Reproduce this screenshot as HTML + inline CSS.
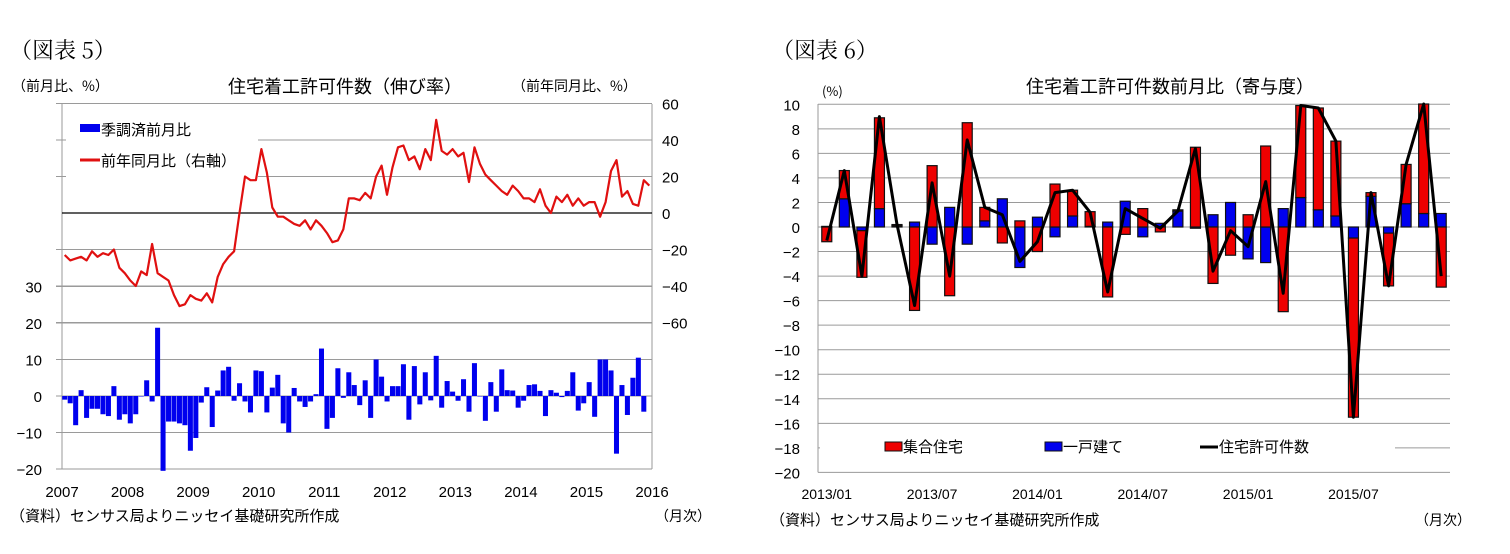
<!DOCTYPE html>
<html><head><meta charset="utf-8"><style>
html,body{margin:0;padding:0;background:#fff;width:1510px;height:554px;overflow:hidden}
svg{display:block}
text{font-family:"Liberation Sans","Noto Sans CJK JP",sans-serif;fill:#000}
.jp{font-family:"Noto Sans CJK JP","Liberation Sans",sans-serif}
.ser{font-family:"Noto Serif CJK SC","Liberation Serif",serif}
</style></head><body>
<svg id="root" width="1510" height="554" xmlns="http://www.w3.org/2000/svg">
<g id="left"></g>
<g id="right"></g>
<text class="ser" x="10" y="58" font-size="22">（図表 5）</text>
<text class="ser" x="772" y="58" font-size="22">（図表 6）</text>
<text class="jp" x="12" y="91" font-size="14">（前月比、%）</text>
<text class="jp" x="345" y="93" font-size="18" text-anchor="middle">住宅着工許可件数（伸び率）</text>
<text class="jp" x="512" y="91" font-size="14">（前年同月比、%）</text>
<text class="jp" x="10" y="521" font-size="15">（資料）センサス局よりニッセイ基礎研究所作成</text>
<text class="jp" x="655" y="521" font-size="14">（月次）</text>
<text class="jp" x="822" y="96" font-size="13">(%)</text>
<text class="jp" x="1170" y="93" font-size="18" text-anchor="middle">住宅着工許可件数前月比（寄与度）</text>
<text class="jp" x="770" y="525" font-size="15">（資料）センサス局よりニッセイ基礎研究所作成</text>
<text class="jp" x="1415" y="525" font-size="14">（月次）</text>
</svg>
<script>
const NS="http://www.w3.org/2000/svg";
function mk(parent,tag,attrs,txt){const e=document.createElementNS(NS,tag);for(const k in attrs)e.setAttribute(k,attrs[k]);if(txt!==undefined)e.textContent=txt;parent.appendChild(e);return e;}

// ===== Left chart data =====
const yearLabels=["2007","2008","2009","2010","2011","2012","2013","2014","2015","2016"];
const leftTicks=[30,20,10,0,-10,-20];
const rightTicks=[60,40,20,0,-20,-40,-60];
const momValues=[-1,-2,-8,1.6,-6,-3.5,-3.5,-5,-5.5,2.7,-6.5,-5,-7.5,-5,0,4.3,-1.5,18.7,-20.5,-7,-7,-7.5,-8,-15,-11.5,-1.8,2.4,-8.5,1.5,7,8,-1.3,3.5,-1.5,-4.5,7,6.8,-4.5,2.3,5.8,-7.5,-10,2.2,-1.5,-3,-1.5,0.5,13,-9,-6,7.6,-0.5,6.5,3,-2.5,4.3,-6,10,5.3,-1.5,2.7,2.7,8.7,-6.5,8.2,-2.3,6.5,-1.2,11,-3.2,4.1,1.2,-1.3,4.6,-4.3,9,0,-6.8,3.8,-4.3,7.3,1.6,1.5,-3.2,-1.3,3,3.2,1.4,-5.5,1.6,0.9,-0.3,1.4,6.5,-4,-2,3.8,-5.7,10,10,7,-15.8,3,-5.2,5,10.5,-4.3];
const yoyValues=[-23,-26,-25,-24,-26,-21,-24,-22,-23,-20,-30,-33,-37,-40,-32,-34,-17,-33,-35,-37,-45,-51,-50,-45,-47,-48,-44,-49,-35,-28,-24,-21,0,20,18,18,35,22,3,-2,-2,-4,-6,-7,-4,-9,-4,-7,-11,-16,-15,-9,8,8,7,11,8,20,26,10,25,36,37,29,31,24,35,29,51,34,32,35,31,33,17,36,27,21,18,15,12,10,15,12,8,8,6,13,4,0,9,6,10,4,8,4,6,6,-2,6,23,29,9,12,5,4,18,15];

// ===== Right chart data =====
const monthLabels=["2013/01","2013/07","2014/01","2014/07","2015/01","2015/07"];
const contribTicks=[10,8,6,4,2,0,-2,-4,-6,-8,-10,-12,-14,-16,-18,-20];
const multiValues=[-1.2,2.3,-3.8,7.4,0.1,-6.8,5,-5.6,8.5,1.1,-1.3,0.5,-2,3.5,2.1,1.2,-5.7,-0.6,1.5,-0.4,0.1,6.5,-4.6,-2.3,1,6.6,-6.9,7.5,8.3,6.1,-14.6,0.3,-4.3,3.2,9.1,-4.9];
const singleValues=[0.05,2.3,-0.3,1.5,0.1,0.4,-1.4,1.6,-1.4,0.5,2.3,-3.3,0.8,-0.8,0.9,0.05,0.4,2.1,-0.8,0.3,1.3,-0.1,1,2,-2.6,-2.9,1.5,2.4,1.4,0.9,-0.9,2.5,-0.5,1.9,1.1,1.1];
const totalValues=[-1.1,4.6,-4,9,0.2,-6.4,3.6,-4,7.1,1.6,1,-2.8,-1.2,2.8,3,1.2,-5.3,1.5,0.7,-0.1,1.3,6.4,-3.6,-0.3,-1.6,3.7,-5.4,9.9,9.7,7,-15.5,2.8,-4.8,5.1,10.2,-4];

// ===== Left chart drawing =====
(function(){
  const g=document.getElementById('left');
  const X0=62,X1=652,Y0=104,Y1=469;
  const nM=108;
  const yL=v=>396-(v/10)*36.5;          // left axis: 0 at 396
  const yR=v=>213-(v/20)*36.5;          // right axis: 0 at 213
  const xM=i=>X0+(X1-X0)/nM*(i+0.5);
  const bw=(X1-X0)/nM*0.92;
  // gridlines at right ticks
  rightTicks.forEach(t=>{
    if(t===0)return;
    const l=mk(g,'line',{x1:56,x2:X1,y1:yR(t),y2:yR(t),stroke:'#9a9a9a','stroke-width':1});
    
    
  });
  leftTicks.forEach(t=>{
    const l=mk(g,'line',{x1:56,x2:X1,y1:yL(t),y2:yL(t),stroke:'#9a9a9a','stroke-width':1});
    
    
    const tx=mk(g,'text',{x:42,y:yL(t)+6,'font-size':15,'text-anchor':'end'},String(t).replace('-','−'));
    
    
  });
  rightTicks.forEach(t=>{
    const tx=mk(g,'text',{x:662,y:yR(t)+6,'font-size':15},String(t).replace('-','−'));
    
    
  });
  mk(g,'line',{x1:X0,x2:X0,y1:Y0,y2:Y1,stroke:'#9a9a9a'});
  mk(g,'line',{x1:X1,x2:X1,y1:Y0,y2:Y1,stroke:'#9a9a9a'});
  // legend box
  const lb=mk(g,'rect',{x:66,y:107,width:192,height:73,fill:'#fff'});
  
  
  // zero line right axis
  const z=mk(g,'line',{x1:X0,x2:X1,y1:yR(0),y2:yR(0),stroke:'#000','stroke-width':1.2});
  
  
  // bars
  momValues.forEach((v,i)=>{
    const y=Math.min(yL(v),yL(0)),h=Math.abs(yL(v)-yL(0));
    const r=mk(g,'rect',{x:xM(i)-bw/2,y:y,width:bw,height:Math.max(h,0.5),fill:'#0000ee'});
    
    
  });
  // line
  const pts=yoyValues.map((v,i)=>xM(i).toFixed(1)+','+yR(v).toFixed(1)).join(' ');
  const pl=mk(g,'polyline',{points:pts,fill:'none',stroke:'#e01010','stroke-width':2.2,'stroke-linejoin':'round'});
  
  
  // year labels
  yearLabels.forEach((s,i)=>{
    const t=mk(g,'text',{x:X0+(X1-X0)/9*i,y:497,'font-size':15,'text-anchor':'middle'},s);
    
    
  });
  // legend entries
  const s1=mk(g,'rect',{x:80,y:124,width:20,height:8,fill:'#0000ee'});
  
  
  const t1=mk(g,'text',{x:101,y:135,'font-size':15,'class':'jp'},'季調済前月比');
  
  
  const s2=mk(g,'line',{x1:80,x2:100,y1:160,y2:160,stroke:'#e01010','stroke-width':3});
  
  
  const t2=mk(g,'text',{x:101,y:166,'font-size':15,'class':'jp'},'前年同月比（右軸）');
  
  
})();

// ===== Right chart drawing =====
(function(){
  const g=document.getElementById('right');
  const X0=818,X1=1450,Y0=104;
  const n=36;
  const y=v=>227-v*12.27;
  const xc=i=>X0+(X1-X0)/n*(i+0.5);
  const bw=10;
  contribTicks.forEach(t=>{
    const l=mk(g,'line',{x1:X0,x2:X1,y1:y(t),y2:y(t),stroke:'#9a9a9a'});
    
    
    const tx=mk(g,'text',{x:800,y:y(t)+6,'font-size':15,'text-anchor':'end'},String(t).replace('-','−'));
    
    
  });
  mk(g,'line',{x1:X0,x2:X0,y1:Y0,y2:y(-20),stroke:'#9a9a9a'});
  // legend box
  const lb=mk(g,'rect',{x:X0+2,y:433,width:575,height:28,fill:'#fff'});
  
  
  // stacked bars
  for(let i=0;i<n;i++){
    let pos=0,neg=0;
    [[singleValues[i],'#0000ee','single-family-bar'],[multiValues[i],'#ee0000','multi-family-bar']].forEach(([v,c,nm])=>{
      let a,b;
      if(v>=0){a=pos;b=pos+v;pos=b;}else{a=neg;b=neg+v;neg=b;}
      const top=Math.max(Y0,Math.min(y(a),y(b))),bot=Math.max(y(a),y(b));
      const r=mk(g,'rect',{x:xc(i)-bw/2,y:top,width:bw,height:Math.max(bot-top,0.5),fill:c,stroke:'#111','stroke-width':1.2});
      
      
    });
  }
  const pts=totalValues.map((v,i)=>xc(i).toFixed(1)+','+Math.max(Y0,y(v)).toFixed(1)).join(' ');
  const pl=mk(g,'polyline',{points:pts,fill:'none',stroke:'#000','stroke-width':3,'stroke-linejoin':'round'});
  
  
  monthLabels.forEach((s,i)=>{
    const t=mk(g,'text',{x:xc(i*6),y:499,'font-size':14,'text-anchor':'middle'},s);
    
    
  });
  const le=[[885,'#ee0000','集合住宅','legend-entry-multi-family'],[1045,'#0000ee','一戸建て','legend-entry-single-family']];
  le.forEach(([x,c,s,nm])=>{
    const r=mk(g,'rect',{x:x,y:442,width:17,height:9,fill:c,stroke:'#111','stroke-width':1});
    
    
    const t=mk(g,'text',{x:x+18,y:452,'font-size':15,'class':'jp'},s);
    
    
  });
  const ll=mk(g,'line',{x1:1200,x2:1218,y1:447,y2:447,stroke:'#000','stroke-width':3});
  
  
  const lt=mk(g,'text',{x:1219,y:452,'font-size':15,'class':'jp'},'住宅許可件数');
  
  
})();
</script>
</body></html>
